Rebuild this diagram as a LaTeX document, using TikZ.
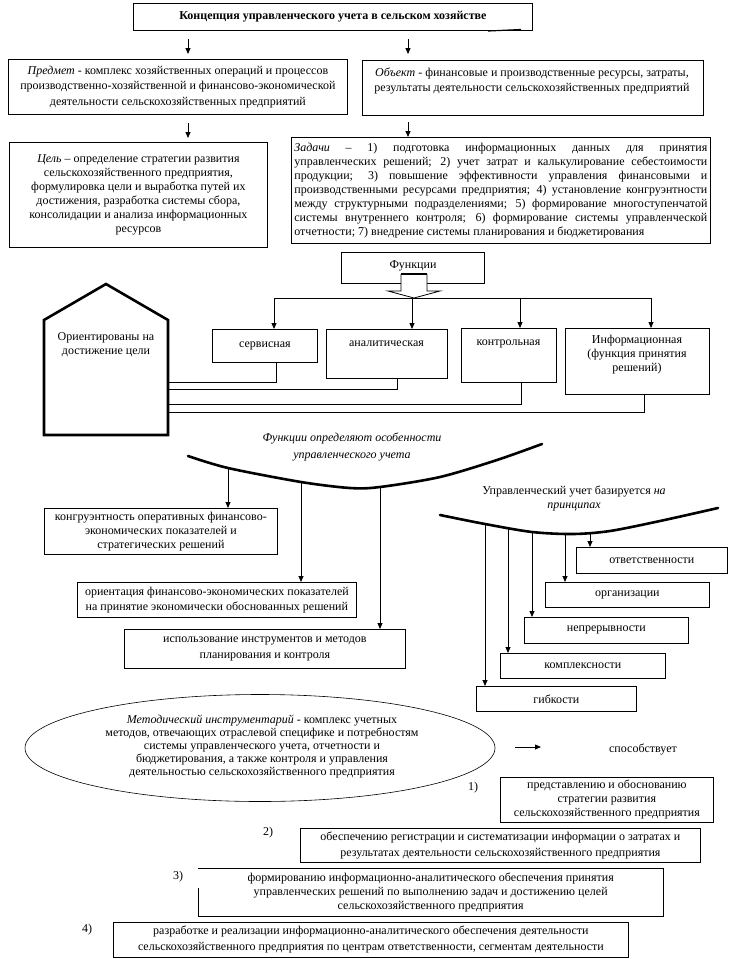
\documentclass[tikz,border=0pt]{standalone}
\usepackage{fontspec}
\setmainfont{Liberation Serif}
\usetikzlibrary{arrows.meta,calc,shapes.geometric}
\begin{document}
\begin{tikzpicture}[x=1pt,y=-1pt,
  every node/.style={font=\fontsize{12}{14}\selectfont},
  box/.style={draw, line width=0.8pt, inner sep=0pt, anchor=north west, align=center},
  txt/.style={inner sep=0pt, align=center},
  arr/.style={-{Triangle[length=6pt,width=5pt]}, line width=0.8pt},
  ln/.style={line width=0.8pt},
  bow/.style={line width=2.6pt, line cap=round},
]
\useasboundingbox[fill=white] (0,0) rectangle (730,959);

% ---- title and first level
\node[box, minimum width=399pt, minimum height=27pt, font=\fontsize{12}{14}\selectfont\bfseries] (title) at (133,3) {Концепция управленческого учета в сельском хозяйстве};
\draw[line width=1.2pt] (488,31) -- (521,29.5);

\coordinate (a1s) at (188,39); \coordinate (a1e) at (188,54);
\coordinate (a2s) at (408,39); \coordinate (a2e) at (408,54);
\draw[arr] (a1s) -- (a1e);
\draw[arr] (a2s) -- (a2e);

\node[box, minimum width=339pt, minimum height=55pt, font=\fontsize{12}{15.5}\selectfont] (pred) at (8,59) {\textit{Предмет} - комплекс хозяйственных операций и процессов\\ производственно-хозяйственной и финансово-экономической\\ деятельности сельскохозяйственных предприятий};

\node[box, minimum width=341pt, minimum height=55pt] (obj) at (362,60) {};
\node[txt, font=\fontsize{12}{15.5}\selectfont] (objtxt) at (532,81) {\textit{Объект} - финансовые и производственные ресурсы, затраты,\\ результаты деятельности сельскохозяйственных предприятий};

\coordinate (a3s) at (188,123); \coordinate (a3e) at (188,138);
\coordinate (a4s) at (408,122); \coordinate (a4e) at (408,137);
\draw[arr] (a3s) -- (a3e);
\draw[arr] (a4s) -- (a4e);

\node[box, minimum width=258pt, minimum height=105pt] (cel) at (9,142) {\textit{Цель} – определение стратегии развития\\ сельскохозяйственного предприятия,\\ формулировка цели и выработка путей их\\ достижения, разработка системы сбора,\\ консолидации и анализа информационных\\ ресурсов};

\node[box, minimum width=419pt, minimum height=106pt, text width=413pt, align=justify, font=\fontsize{12}{14}\selectfont,
  execute at begin node={\hyphenpenalty=10000\exhyphenpenalty=10000}] (zad) at (291,137) {\textit{Задачи} – 1) подготовка информационных данных для принятия\linebreak
управленческих решений; 2) учет затрат и калькулирование себестоимости\linebreak
продукции; 3) повышение эффективности управления финансовыми и\linebreak
производственными ресурсами предприятия; 4) установление конгруэнтности\linebreak
между структурными подразделениями; 5) формирование многоступенчатой\linebreak
системы внутреннего контроля; 6) формирование системы управленческой\linebreak
отчетности; 7) внедрение системы планирования и бюджетирования};

% ---- functions
\node[box, minimum width=143pt, minimum height=31pt] (fun) at (341,252) {};
\node[txt] (funtxt) at (413,266) {Функции};
\draw[ln, fill=white] (401,274) -- (401,291) -- (388,291) -- (414,298) -- (440,291) -- (427,291) -- (427,274);
\draw[line width=2pt] (401,274) -- (427,274);

\node[box, minimum width=105pt, minimum height=33pt] (serv) at (212,329) {сервисная};
\node[box, minimum width=121pt, minimum height=49pt] (anal) at (326,329) {};
\node[txt] (analtxt) at (386.5,344) {аналитическая};
\node[box, minimum width=95pt, minimum height=54pt] (kontr) at (461,328) {};
\node[txt] (kontrtxt) at (508.5,344) {контрольная};
\node[box, minimum width=144pt, minimum height=66pt] (info) at (565,328) {};
\node[txt] (infotxt) at (637,355) {Информационная\\ (функция принятия\\ решений)};

\coordinate (d1) at (274,298);
\coordinate (d2) at (412,298);
\coordinate (d3) at (520,298);
\coordinate (d4) at (651,298);
\draw[ln] (d1) -- (d4);
\draw[arr] (d1) -- (d1 |- serv.north);
\draw[arr] (d2) -- (d2 |- anal.north);
\draw[arr] (d3) -- (d3 |- kontr.north);
\draw[arr] (d4) -- (d4 |- info.north);

% house
\draw[line width=2.6pt, line join=miter] (44,435) -- (44,320) -- (106,284) -- (168,320) -- (168,435) -- cycle;
\node[txt] (housetxt) at (106,345) {Ориентированы на\\ достижение цели};
\coordinate (h1) at (168,382);
\coordinate (h2) at (168,389);
\coordinate (h3) at (168,404);
\coordinate (h4) at (168,412);
\draw[ln] ([xshift=11.5pt]serv.south) |- (h1);
\draw[ln] ([xshift=10.5pt]anal.south) |- (h2);
\draw[ln] ([xshift=12.5pt]kontr.south) |- (h3);
\draw[ln] ([xshift=7pt]info.south) |- (h4);

% ---- features of management accounting
\node[txt, font=\fontsize{12}{17.5}\selectfont\itshape] (feat) at (352,447) {Функции определяют особенности\\ управленческого учета};
\draw[bow] plot[smooth] coordinates {(188,456) (228,468) (301,482) (350,488) (380,487) (440,477) (497,460) (542,444)};
\coordinate (c1) at (228,468);
\coordinate (c2) at (301,482);
\coordinate (c3) at (380,487);

\node[box, minimum width=233pt, minimum height=46pt] (kong) at (44,508) {конгруэнтность оперативных финансово-\\ экономических показателей и\\ стратегических решений};
\node[box, minimum width=279pt, minimum height=35pt, font=\fontsize{12}{15}\selectfont] (orient) at (77,582) {ориентация финансово-экономических показателей\\ на принятие экономически обоснованных решений};
\node[box, minimum width=281pt, minimum height=39pt, font=\fontsize{12}{16}\selectfont] (ispol) at (124,629) {использование инструментов и методов\\ планирования и контроля};
\draw[arr] (c1) -- (c1 |- kong.north);
\draw[arr] (c2) -- (c2 |- orient.north);
\draw[arr] (c3) -- (c3 |- ispol.north);

% ---- principles
\node[txt] (princ) at (574,498) {Управленческий учет базируется \textit{на}\\ \textit{принципах}};
\draw[bow] plot[smooth] coordinates {(440,515) (485,524) (532,532) (573,534) (610,531) (660,521) (718,508)};
\coordinate (p1) at (485,524);
\coordinate (p2) at (508,528.5);
\coordinate (p3) at (532,532);
\coordinate (p4) at (565,534);
\coordinate (p5) at (590,534);

\node[box, minimum width=151pt, minimum height=26pt] (otv) at (576,547) {ответственности};
\node[box, minimum width=164pt, minimum height=25pt] (org) at (545,582) {организации};
\node[box, minimum width=164pt, minimum height=26pt] (nepr) at (524,617) {непрерывности};
\node[box, minimum width=165pt, minimum height=25pt] (kompl) at (500,653) {комплексности};
\node[box, minimum width=160pt, minimum height=25pt] (gibk) at (476,686) {гибкости};
\draw[arr] (p1) -- (p1 |- gibk.north);
\draw[arr] (p2) -- (p2 |- kompl.north);
\draw[arr] (p3) -- (p3 |- nepr.north);
\draw[arr] (p4) -- (p4 |- org.north);
\draw[arr] (p5) -- (p5 |- otv.north);

% ---- methodological toolkit
\node[draw, ellipse, line width=0.6pt, inner sep=0pt, minimum width=470pt, minimum height=107pt] (ell) at (260,748) {};
\node[txt, font=\fontsize{12}{13}\selectfont] (elltxt) at (262,746) {\textit{Методический инструментарий} - комплекс учетных\\ методов, отвечающих отраслевой специфике и потребностям\\ системы управленческого учета, отчетности и\\ бюджетирования, а также контроля и управления\\ деятельностью сельскохозяйственного предприятия};

\coordinate (sps) at (515,747);
\coordinate (spe) at (541,747);
\draw[arr] (sps) -- (spe);
\node[txt] (spos) at (643,749) {способствует};

\node[txt] (n1) at (473,788) {1)};
\node[box, minimum width=213pt, minimum height=45pt] (r1) at (500,777) {представлению и обоснованию\\ стратегии развития\\ сельскохозяйственного предприятия};

\node[txt] (n2) at (268,833) {2)};
\node[box, minimum width=400pt, minimum height=34pt, font=\fontsize{12}{16}\selectfont] (r2) at (300,828) {обеспечению регистрации и систематизации информации о затратах и\\ результатах деятельности сельскохозяйственного предприятия};

\node[txt] (n3) at (178,877) {3)};
\node[inner sep=0pt, anchor=north west, minimum width=465pt, minimum height=48pt, align=center] (r3) at (198,868) {формированию информационно-аналитического обеспечения принятия\\ управленческих решений по выполнению задач и достижению целей\\ сельскохозяйственного предприятия};
\coordinate (r3gap) at ($(r3.north west)+(0,20)$);
\draw[ln] (r3gap) -- (r3.south west) -- (r3.south east) -- (r3.north east) -- (r3.north west);

\node[txt] (n4) at (87,930) {4)};
\node[box, minimum width=515pt, minimum height=35pt, font=\fontsize{12}{16}\selectfont] (r4) at (113,922) {разработке и реализации информационно-аналитического обеспечения деятельности\\ сельскохозяйственного предприятия по центрам ответственности, сегментам деятельности};

\end{tikzpicture}
\end{document}
